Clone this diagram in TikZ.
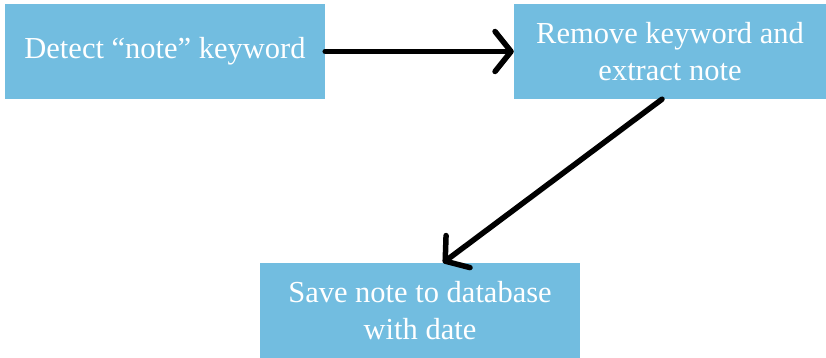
\documentclass[tikz,border=0pt]{standalone}
\usepackage{fontspec}
\setmainfont{Liberation Serif}
\usetikzlibrary{arrows.meta}
\definecolor{boxblue}{RGB}{114,189,224}

\begin{document}
\begin{tikzpicture}[x=1pt,y=-1pt,
    stepbox/.style={fill=boxblue, text=white, minimum width=320pt, minimum height=95pt,
      align=center, font=\fontsize{30.5}{37}\selectfont, inner sep=0pt},
    flow/.style={line width=5.5pt, line cap=round, line join=round,
      -{Straight Barb[length=16pt,width=40pt,line cap=round,line join=round]}}]
  \useasboundingbox (0,0) rectangle (826,358);
  \node[stepbox]                       (detect)  at (165,51.5)  {Detect “note” keyword};
  \node[stepbox, minimum width=312pt]  (extract) at (670,51.5)  {Remove keyword and\\extract note};
  \node[stepbox]                       (save)    at (420,310.5) {Save note to database\\with date};

  \draw[flow] (detect.east) -- (extract.west);
  \draw[flow] ([xshift=-8pt]extract.south) -- ([xshift=23pt]save.north);
\end{tikzpicture}
\end{document}
